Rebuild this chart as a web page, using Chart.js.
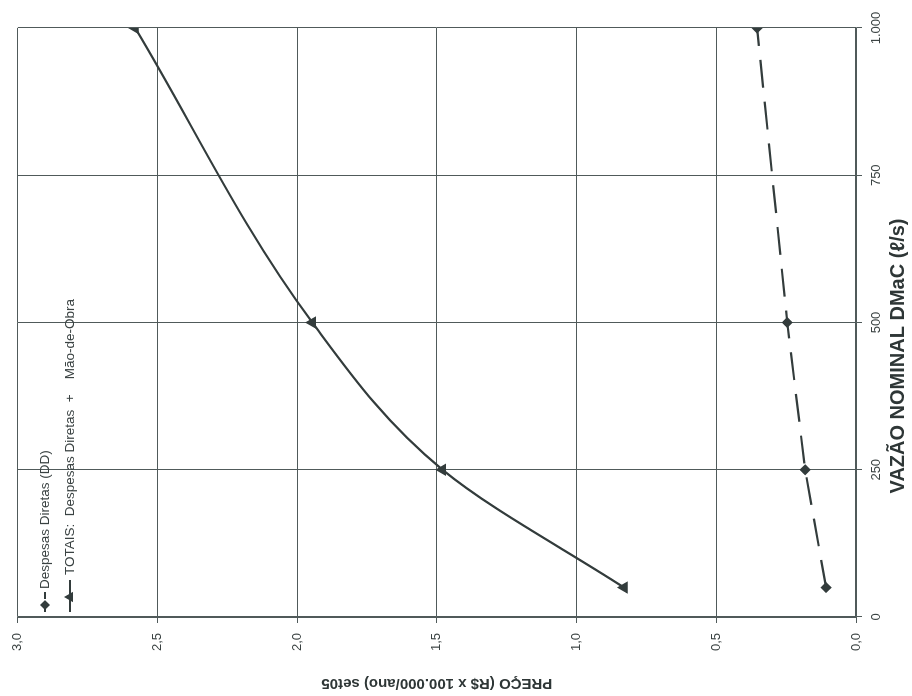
<!DOCTYPE html>
<html><head><meta charset="utf-8">
<script src="https://cdn.jsdelivr.net/npm/chart.js@4.4.1/dist/chart.umd.min.js"></script>
<style>
html,body{margin:0;padding:0;background:#fff;overflow:hidden;width:912px;height:696px}
#wrap{position:absolute;left:0;top:0;width:696px;height:912px;transform-origin:0 0;transform:translate(0,696px) rotate(-90deg)}
</style></head><body>
<div id="wrap"><canvas id="c" width="696" height="912"></canvas></div>
<script>
// Data
const vazao = [50, 250, 500, 1000];                 // VAZÃO NOMINAL DMaC (l/s)
const despesasDiretas = [0.107, 0.182, 0.246, 0.354]; // R$ x 100.000/ano
const totais = [0.83, 1.48, 1.946, 2.58];             // R$ x 100.000/ano
const precoTicks = [0, 0.5, 1.0, 1.5, 2.0, 2.5, 3.0];
const vazaoTicks = [0, 250, 500, 750, 1000];
const seriesNames = ['Despesas Diretas (DD)', 'TOTAIS:  Despesas Diretas  +    Mão-de-Obra'];
const xTitle = 'VAZÃO NOMINAL DMaC (ℓ/s)';
const yTitle = 'PREÇO (R$ x 100.000/ano) set05';

const INK = '#333c3c';
const GRID = '#505a5a';
const FONT = '"Liberation Sans", Arial, sans-serif';

function fmtPreco(v){ return v.toFixed(1).replace('.', ','); }
function fmtVazao(v){ return v >= 1000 ? Math.floor(v/1000) + '.' + String(v%1000).padStart(3,'0') : String(v); }

const legendPlugin = {
  id: 'rotLegend',
  afterDraw(chart){
    const ctx = chart.ctx;
    const items = [
      {y: 45, x0: 84, x1: 104, mx: 91, dash: [9,4], style: 'rectRot', r: 3.5, tx: 107},
      {y: 70, x0: 84, x1: 116, mx: 99, dash: [], style: 'triangle', r: 4, tx: 121}
    ];
    ctx.save();
    items.forEach((it, i) => {
      ctx.strokeStyle = INK; ctx.lineWidth = 2; ctx.setLineDash(it.dash);
      ctx.beginPath(); ctx.moveTo(it.x0, it.y); ctx.lineTo(it.x1, it.y); ctx.stroke();
      ctx.setLineDash([]);
      ctx.fillStyle = INK;
      Chart.helpers.drawPoint(ctx, {pointStyle: it.style, radius: it.r, borderWidth: 1}, it.mx, it.y);
      ctx.font = '13.5px ' + FONT;
      ctx.fillStyle = '#3a4242';
      ctx.textBaseline = 'middle'; ctx.textAlign = 'left';
      ctx.fillText(seriesNames[i], it.tx, it.y);
    });
    // x-axis title (placed off-centre as in the reference)
    ctx.font = 'bold 20px ' + FONT;
    ctx.fillStyle = '#2e3636';
    ctx.textAlign = 'center'; ctx.textBaseline = 'middle';
    ctx.fillText(xTitle, 340, 898);
    ctx.restore();
  }
};

new Chart(document.getElementById('c'), {
  type: 'line',
  data: {
    datasets: [
      {
        label: seriesNames[0],
        data: vazao.map((v, i) => ({x: v, y: despesasDiretas[i]})),
        borderColor: INK, backgroundColor: INK, borderWidth: 2.2,
        borderDash: [28, 14], pointStyle: 'rectRot', pointRadius: 4,
        pointBackgroundColor: INK, pointBorderColor: INK, tension: 0
      },
      {
        label: seriesNames[1],
        data: vazao.map((v, i) => ({x: v, y: totais[i]})),
        borderColor: INK, backgroundColor: INK, borderWidth: 2.2,
        pointStyle: 'triangle', pointRadius: 5,
        pointBackgroundColor: INK, pointBorderColor: INK,
        cubicInterpolationMode: 'monotone'
      }
    ]
  },
  options: {
    responsive: false, animation: false, devicePixelRatio: 1,
    layout: {padding: {top: 16, right: 28, left: 0, bottom: 0}},
    plugins: {legend: {display: false}, tooltip: {enabled: false}},
    scales: {
      x: {
        type: 'linear', min: 0, max: 1000,
        afterBuildTicks: s => { s.ticks = vazaoTicks.map(v => ({value: v})); },
        afterFit: s => { s.height = 56; },
        ticks: {callback: v => fmtVazao(v), color: '#3a4242', font: {family: FONT, size: 13}, padding: 7, maxRotation: 0},
        grid: {color: GRID, lineWidth: 1, tickLength: 6},
        border: {color: GRID, width: 1.5},
        title: {display: false}
      },
      y: {
        type: 'linear', min: 0, max: 3,
        afterBuildTicks: s => { s.ticks = precoTicks.map(v => ({value: v})); },
        afterFit: s => { s.width = 79; },
        ticks: {callback: v => fmtPreco(v), color: '#3a4242', font: {family: FONT, size: 13}, padding: 10},
        grid: {color: GRID, lineWidth: 1, tickLength: 6},
        border: {color: GRID, width: 1.5},
        title: {display: true, text: yTitle, color: '#2e3636', font: {family: FONT, size: 15, weight: 'bold'}, padding: {top: 4, bottom: 0}}
      }
    }
  },
  plugins: [legendPlugin]
});
</script>
</body></html>
